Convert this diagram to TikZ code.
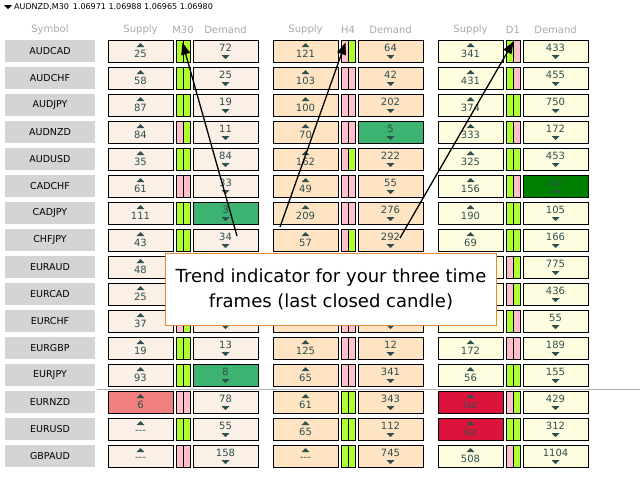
\documentclass[tikz,border=0pt]{standalone}
\usepackage{fontspec}
\setmainfont{DejaVu Sans}
\usetikzlibrary{arrows.meta}
\usetikzlibrary{positioning}
\definecolor{mbg}{HTML}{FAF0E6}
\definecolor{hbg}{HTML}{FFE4C4}
\definecolor{dbg}{HTML}{FFFDE0}
\definecolor{tG}{HTML}{ADFF2F}
\definecolor{tP}{HTML}{FFC0CB}
\definecolor{txt}{HTML}{2F4F4F}
\definecolor{hdr}{HTML}{A9A9A9}
\definecolor{seagrn}{HTML}{3CB371}
\definecolor{coral}{HTML}{F08080}
\definecolor{crimson}{HTML}{DC143C}
\definecolor{darkgrn}{HTML}{008000}
\definecolor{boxorange}{HTML}{E08A3C}
\tikzset{
  cellbox/.style={draw=black,line width=0.9pt,minimum width=65pt,minimum height=22pt,inner sep=0pt},
  trendbox/.style={draw=black,line width=0.9pt,minimum width=7pt,minimum height=22pt,inner sep=0pt},
  symbtn/.style={fill=black!17,minimum width=90pt,minimum height=22pt,inner sep=0pt,font=\fontsize{9.5}{10}\selectfont},
  num/.style={text=txt,inner sep=0pt,font=\fontsize{10}{10}\selectfont},
  head/.style={text=hdr,font=\fontsize{10}{10}\selectfont}
}
\newcommand\nada{-{}-{}-}
% supply cell: x, y, fill, text, name
\newcommand\supcell[5]{%
  \node[cellbox,fill=#3] (#5) at (#1,#2) {};
  \fill[txt] (#1,#2-8) -- (#1-4,#2-4) -- (#1+4,#2-4) -- cycle;
  \node[num] at (#1,#2+3) {#4};}
% demand cell: x, y, fill, text, name
\newcommand\demcell[5]{%
  \node[cellbox,fill=#3] (#5) at (#1,#2) {};
  \node[num] at (#1,#2-3) {#4};
  \fill[txt] (#1,#2+8) -- (#1-4,#2+4) -- (#1+4,#2+4) -- cycle;}
\begin{document}
\begin{tikzpicture}[x=1pt,y=-1pt]
  \useasboundingbox[fill=white] (0,0) rectangle (640,480);
  % title line
  \fill[black] (4,5) -- (12,5) -- (8,9) -- cycle;
  \node[anchor=west,inner sep=0pt,font=\fontsize{8}{8}\selectfont] (title) at (14,7) {AUDNZD,M30\enspace 1.06971 1.06988 1.06965 1.06980};
  % headers
  \node[head] (hsym) at (50,30) {Symbol};
  \foreach \xs/\tf in {0/M30,165/H4,330/D1}{
    \node[head] at (140.5+\xs,30) {Supply};
    \node[head] at (183+\xs,30) {\tf};
    \node[head] at (225.5+\xs,30) {Demand};
  }
  \draw[black!30] (97,389) -- (640,389);
  % rows
  \foreach \sym/\ms/\md/\hs/\hd/\ds/\dd/\ma/\mb/\ha/\hb/\da/\db [count=\i] in {
    AUDCAD/25/72/121/64/341/433/G/G/P/G/G/P,
    AUDCHF/58/25/103/42/431/455/G/G/P/P/G/P,
    AUDJPY/87/19/100/202/374/750/G/G/P/P/G/G,
    AUDNZD/84/11/70/5/333/172/P/G/P/P/G/P,
    AUDUSD/35/84/162/222/325/453/G/G/P/G/G/G,
    CADCHF/61/33/49/55/156/idz/P/P/P/P/G/P,
    CADJPY/111/3/209/276/190/105/G/G/P/P/G/G,
    CHFJPY/43/34/57/292/69/166/G/G/P/G/G/G,
    EURAUD/48/{}/{}/{}/{}/775/G/G/P/P/P/G,
    EURCAD/25/{}/{}/{}/{}/436/G/G/P/P/P/G,
    EURCHF/37/{}/{}/{}/{}/55/P/G/P/P/G/P,
    EURGBP/19/13/125/12/172/189/G/G/P/P/P/P,
    EURJPY/93/8/65/341/56/155/G/G/P/P/G/G,
    EURNZD/6/78/61/343/isz/429/P/P/G/G/P/G,
    EURUSD/\nada/55/65/112/isz/312/G/G/G/G/G/G,
    GBPAUD/\nada/158/\nada/745/508/1104/P/P/G/G/P/G}{
    \pgfmathsetmacro\cy{51+27*(\i-1)}
    \node[symbtn] (sym\i) at (50,\cy) {\sym};
    \supcell{140.5}{\cy}{mbg}{\ms}{ms\i}
    \node[trendbox,fill=t\ma] (mtl\i) at (179.5,\cy) {};
    \node[trendbox,fill=t\mb] (mtr\i) at (186.5,\cy) {};
    \demcell{225.5}{\cy}{mbg}{\md}{md\i}
    \supcell{305.5}{\cy}{hbg}{\hs}{hs\i}
    \node[trendbox,fill=t\ha] (htl\i) at (344.5,\cy) {};
    \node[trendbox,fill=t\hb] (htr\i) at (351.5,\cy) {};
    \demcell{390.5}{\cy}{hbg}{\hd}{hd\i}
    \supcell{470.5}{\cy}{dbg}{\ds}{ds\i}
    \node[trendbox,fill=t\da] (dtl\i) at (509.5,\cy) {};
    \node[trendbox,fill=t\db] (dtr\i) at (516.5,\cy) {};
    \demcell{555.5}{\cy}{dbg}{\dd}{dd\i}
  }
  % coloured zones
  \demcell{225.5}{213}{seagrn}{3}{md7z}
  \demcell{225.5}{375}{seagrn}{8}{md13z}
  \demcell{390.5}{132}{seagrn}{5}{hd4z}
  \demcell{555.5}{186}{darkgrn}{idz}{dd6z}
  \supcell{140.5}{402}{coral}{6}{ms14z}
  \supcell{470.5}{402}{crimson}{isz}{ds14z}
  \supcell{470.5}{429}{crimson}{isz}{ds15z}
  % pointers
  \coordinate (t1) at (237,236);
  \coordinate (t2) at (280,227);
  \coordinate (t3) at (400,238);
  \draw[line width=1.3pt,-{Triangle[length=12pt,width=9pt]}] (t1) -- ([xshift=-1pt,yshift=-3pt]mtl1.north east);
  \draw[line width=1.3pt,-{Triangle[length=12pt,width=9pt]}] (t2) -- ([xshift=1pt,yshift=-3pt]htl1.north);
  \draw[line width=1.3pt,-{Triangle[length=12pt,width=9pt]}] (t3) -- ([yshift=-2pt]dtl1.north east);
  % note
  \node[draw=boxorange,line width=1.5pt,fill=white,minimum width=331pt,minimum height=72pt,align=center,
        font=\fontsize{18}{25}\selectfont] (note) at (331,289.5)
        {Trend indicator for your three time\\frames (last closed candle)};
\end{tikzpicture}
\end{document}
